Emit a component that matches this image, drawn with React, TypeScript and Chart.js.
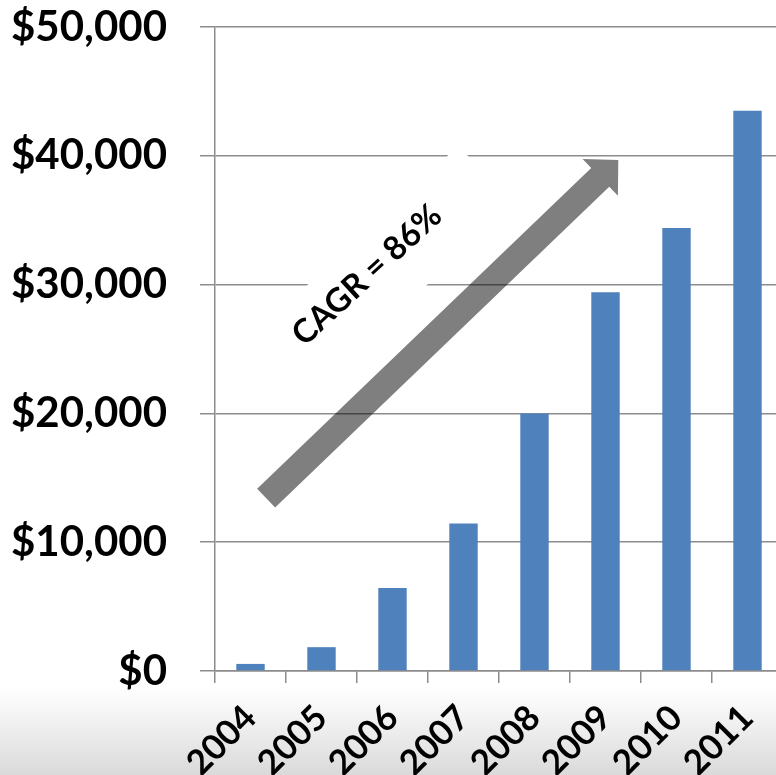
import React, { useEffect, useRef } from "react";
import { Chart, registerables } from "chart.js";

Chart.register(...registerables);

const years = ["2004", "2005", "2006", "2007", "2008", "2009", "2010", "2011"];
const revenue = [550, 1850, 6450, 11450, 20000, 29400, 34400, 43500];
const yMin = 0;
const yMax = 50000;
const yStep = 10000;

// annotation anchors in data space: [category index, value]
const arrowTail = [0.22, 13430];
const arrowTip = [5.18, 39670];
const cagrText = "CAGR = 86%";
const cagrPos = [1.64, 30745];

const GRID = "#8c8c8c";
const BAR = "#4F81BD";
const FONT = "Lato, 'Open Sans', sans-serif";

const annotationPlugin = {
  id: "cagrAnnotation",
  afterDatasetsDraw(chart: any) {
    const { ctx, scales } = chart;
    const x = scales.x;
    const y = scales.y;
    const tx = x.getPixelForValue(cagrPos[0]);
    const ty = y.getPixelForValue(cagrPos[1]);
    const ang = (-42.7 * Math.PI) / 180;
    ctx.save();
    ctx.translate(tx, ty);
    ctx.rotate(ang);
    ctx.fillStyle = "#ffffff";
    ctx.fillRect(-105, -33, 260, 81);
    ctx.restore();

    const x0 = x.getPixelForValue(arrowTail[0]);
    const y0 = y.getPixelForValue(arrowTail[1]);
    const x1 = x.getPixelForValue(arrowTip[0]);
    const y1 = y.getPixelForValue(arrowTip[1]);
    const len = Math.hypot(x1 - x0, y1 - y0);
    const dx = (x1 - x0) / len;
    const dy = (y1 - y0) / len;
    const nx = -dy;
    const ny = dx;
    const sw = 13;
    const hw = 25.5;
    const hl = 25;
    const bx = x1 - dx * hl;
    const by = y1 - dy * hl;
    ctx.save();
    ctx.fillStyle = "rgba(0,0,0,0.5)";
    ctx.beginPath();
    ctx.moveTo(x0 + nx * sw, y0 + ny * sw);
    ctx.lineTo(bx + nx * sw, by + ny * sw);
    ctx.lineTo(bx + nx * hw, by + ny * hw);
    ctx.lineTo(x1, y1);
    ctx.lineTo(bx - nx * hw, by - ny * hw);
    ctx.lineTo(bx - nx * sw, by - ny * sw);
    ctx.lineTo(x0 - nx * sw, y0 - ny * sw);
    ctx.closePath();
    ctx.fill();
    ctx.restore();

    ctx.save();
    ctx.translate(tx, ty);
    ctx.rotate(ang);
    ctx.fillStyle = "#000000";
    ctx.font = `bold 33px ${FONT}`;
    ctx.textAlign = "center";
    ctx.textBaseline = "middle";
    ctx.fillText(cagrText, 0, 0);
    ctx.restore();
  },
};

export default function App() {
  const ref = useRef<HTMLCanvasElement | null>(null);

  useEffect(() => {
    if (!ref.current) return;
    const chart = new Chart(ref.current, {
      type: "bar",
      data: {
        labels: years,
        datasets: [
          {
            data: revenue,
            backgroundColor: BAR,
            borderWidth: 0,
            categoryPercentage: 1,
            barPercentage: 0.4,
          },
        ],
      },
      options: {
        responsive: false,
        animation: false,
        layout: { padding: { top: 0, left: 0, right: 0, bottom: 0 } },
        plugins: { legend: { display: false }, tooltip: { enabled: false } },
        scales: {
          x: {
            offset: true,
            grid: {
              offset: true,
              drawOnChartArea: false,
              drawTicks: true,
              tickLength: 12,
              color: GRID,
              lineWidth: 1.5,
            },
            border: { color: GRID, width: 1.5 },
            ticks: {
              autoSkip: false,
              maxRotation: 45,
              minRotation: 45,
              padding: 14,
              color: "#000",
              font: { family: FONT, size: 35, weight: "bold" },
            },
            afterFit(scale: any) {
              scale.height = 104;
              scale.paddingRight = 0;
              scale.paddingLeft = 0;
            },
          },
          y: {
            min: yMin,
            max: yMax,
            ticks: {
              stepSize: yStep,
              padding: 33,
              color: "#000",
              font: { family: FONT, size: 42, weight: "bold" },
              callback: (v: any) => "$" + Number(v).toLocaleString("en-US"),
            },
            grid: {
              color: GRID,
              lineWidth: 1.5,
              tickLength: 15,
            },
            border: { color: GRID, width: 1.5 },
            afterFit(scale: any) {
              scale.width = 215;
              scale.paddingTop = 27;
              scale.paddingBottom = 0;
            },
          },
        },
      },
      plugins: [annotationPlugin],
    });
    return () => chart.destroy();
  }, []);

  return (
    <div
      style={{
        position: "fixed",
        left: 0,
        top: 0,
        width: 776,
        height: 775,
        overflow: "hidden",
        background:
          "linear-gradient(to bottom, #ffffff 0px, #ffffff 688px, #dadada 775px)",
      }}
    >
      <canvas
        ref={ref}
        width={783}
        height={775}
        style={{ width: 783, height: 775, display: "block" }}
      />
    </div>
  );
}
